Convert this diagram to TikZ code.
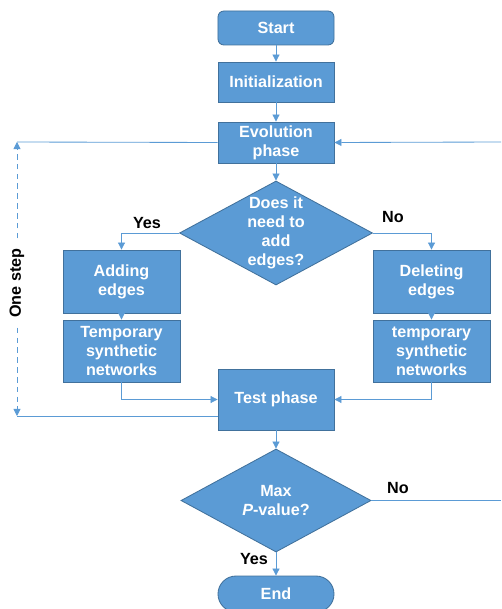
\documentclass[tikz,border=0pt]{standalone}
\usepackage{fontspec}
\setmainfont{Liberation Sans}
\usepackage{tikz}
\usetikzlibrary{shapes.geometric, arrows.meta, calc}
\definecolor{boxblue}{HTML}{5B9BD5}
\definecolor{boxedge}{HTML}{41719C}
\definecolor{lineblue}{HTML}{5B9BD5}
\tikzstyle{process} = [rectangle, minimum width=2.9cm, minimum height=1cm, inner sep=1pt, align=center, draw=boxedge, fill=boxblue, line width=0.6pt, text=white, font=\fontsize{11.5}{13.5}\selectfont\bfseries]
\tikzstyle{startstop} = [process, rounded corners=0.15cm, minimum height=0.85cm]
\tikzstyle{decision} = [diamond, draw=boxedge, fill=boxblue, line width=0.6pt, inner sep=0pt, minimum width=4.825cm, minimum height=2.6cm]
\tikzstyle{dtext} = [align=center, text=white, font=\fontsize{11.5}{13.5}\selectfont\bfseries]
\tikzstyle{lbl} = [font=\fontsize{11.5}{13.5}\selectfont\bfseries, inner sep=1pt]
\tikzstyle{arrow} = [draw=lineblue, line width=0.6pt, -{Triangle[length=5pt,width=5pt,fill=lineblue]}]
\tikzstyle{line} = [draw=lineblue, line width=0.6pt]

\begin{document}
\begin{tikzpicture}[x=0.025cm, y=-0.025cm]
    \useasboundingbox (0,0) rectangle (501,609);

    \node[startstop] (start) at (276,28) {Start};
    \node[process] (init) at (276,82) {Initialization};
    \node[process, minimum height=1.025cm] (evo) at (276,142.5) {Evolution\\phase};
    \node[decision, label={[dtext]center:Does it\\need to\\add\\edges?}] (need) at (276,233) {};
    \node[process, minimum width=2.925cm, minimum height=1.575cm] (add) at (121.5,281.5) {Adding\\edges};
    \node[process, minimum width=2.925cm, minimum height=1.55cm] (tmpl) at (121.5,351) {Temporary\\synthetic\\networks};
    \node[process, minimum width=2.925cm, minimum height=1.575cm] (del) at (431.5,281.5) {Deleting\\edges};
    \node[process, minimum width=2.925cm, minimum height=1.55cm] (tmpr) at (431.5,351) {temporary\\synthetic\\networks};
    \node[process, minimum height=1.525cm] (test) at (276,399.5) {Test phase};
    \node[decision, minimum width=4.75cm, minimum height=2.575cm, label={[dtext]center:Max\\\textit{P}-value?}] (max) at (276,500.5) {};
    \node[startstop, rounded corners=0.45cm, minimum height=0.9cm] (end) at (276,594) {End};

    \node[lbl] (yes1) at (147,223) {Yes};
    \node[lbl] (no1) at (393,217) {No};
    \node[lbl] (no2) at (398,488) {No};
    \node[lbl] (yes2) at (254,559) {Yes};
    \node[lbl, rotate=90, inner xsep=7pt] (onestep) at (17,283) {One step};

    \coordinate (ltop) at (17,142);
    \coordinate (lbot) at (17,416);
    \coordinate (rtop) at (501,142);
    \coordinate (rbot) at (501,500.5);

    \path [arrow] (start) edge (init);
    \path [arrow] (init) edge (evo);
    \path [arrow] (evo) edge (need);
    \path [arrow] (add) edge (tmpl);
    \path [arrow] (del) edge (tmpr);
    \path [arrow] (test) edge (max);
    \path [arrow] (max) edge (end);
    \draw [arrow] (need.west) -| (add.north);
    \draw [arrow] (need.east) -| (del.north);
    \draw [arrow] (tmpl.south) |- (test.west);
    \draw [arrow] (tmpr.south) |- (test.east);

    % one step loop
    \draw [line] (evo.west) -- (ltop);
    \draw [line] (test.west |- lbot) -- (lbot);
    \draw [arrow, dash pattern=on 4pt off 3pt] (onestep.east) -- (ltop);
    \draw [arrow, dash pattern=on 4pt off 3pt] (onestep.west) -- (lbot);

    % back to evolution
    \draw [arrow] (rtop) -- (evo.east);
    \draw [line] (max.east) -- (rbot);

\end{tikzpicture}
\end{document}
